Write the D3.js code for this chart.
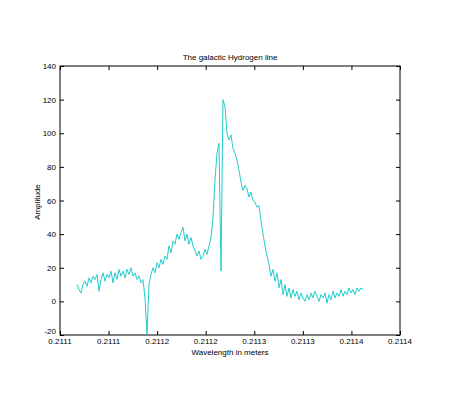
<!DOCTYPE html>
<html>
<head>
<meta charset="utf-8">
<script src="https://cdn.jsdelivr.net/npm/d3@7"></script>
<style>
  body { margin: 0; background: #fff; }
  text { font-family: "Liberation Sans", Arial, sans-serif; font-size: 8px; fill: #000; }
</style>
</head>
<body>
<div id="chart"></div>
<script>
// spectrum samples, uniform channel spacing
var waveStart = 0.2111175, waveStep = 2.0588e-6;
var amplitude = [
  10, 7, 5, 10, 12, 9, 14, 11, 15, 13, 16, 6, 13, 17, 12, 16, 14, 18, 11, 17,
  13, 19, 15, 18, 14, 19, 16, 20, 15, 17, 13, 15, 11, 13, 2, -19.5, 10, 16, 20, 17,
  23, 20, 25, 22, 27, 25, 33, 29, 36, 34, 40, 37, 41, 44, 36, 40, 34, 38, 33, 30,
  27, 30, 25, 27, 31, 28, 33, 38, 50, 72, 88, 94, 18, 120, 116, 100, 96, 99, 91, 88,
  84, 78, 71, 66, 69, 67, 62, 65, 60, 59, 56, 57, 48, 40, 33, 27, 22, 15, 19, 12,
  17, 8, 13, 4, 10, 3, 8, 2, 7, 3, 6, 1, 5, 2, 0, 4, 1, 5, 2, 6,
  3, 0, 4, 2, 5, -1, 4, 1, 6, 2, 5, 3, 7, 3, 6, 4, 8, 5, 7, 4,
  8, 6, 8, 7
];
var xTicks = [0.21110, 0.21115, 0.21120, 0.21125, 0.21130, 0.21135, 0.21140, 0.21145];
var xTickLabels = ["0.2111", "0.2111", "0.2112", "0.2112", "0.2113", "0.2113", "0.2114", "0.2114"];
var yTicks = [-20, 0, 20, 40, 60, 80, 100, 120, 140];

var data = amplitude.map(function (a, i) {
    return { w: waveStart + i * waveStep, a: a };
});

var svgWidth = 452, svgHeight = 393;
var pLeft = 60, pRight = 400, pTop = 66, pBottom = 335;

var svg = d3.select("#chart").append("svg").attr("width", svgWidth).attr("height", svgHeight);

var x = d3.scaleLinear().domain([0.21110, 0.21145]).range([pLeft, pRight]);
var y = d3.scaleLinear().domain([-20, 140]).range([pBottom, pTop]);

// box
svg.append("rect").attr("x", pLeft).attr("y", pTop)
    .attr("width", pRight - pLeft).attr("height", pBottom - pTop)
    .attr("fill", "none").attr("stroke", "#000").attr("stroke-width", 1);

// line
var line = d3.line().x(function (d) { return x(d.w); }).y(function (d) { return y(d.a); });
svg.append("path").datum(data).attr("d", line)
    .attr("fill", "none").attr("stroke", "#22cccc").attr("stroke-width", 1);

// axes (ticks point inward, mirrored on top/right)
svg.append("g").attr("transform", "translate(0," + pBottom + ")")
    .call(d3.axisTop(x).tickValues(xTicks).tickSize(4).tickFormat(""));
svg.append("g").attr("transform", "translate(0," + pTop + ")")
    .call(d3.axisBottom(x).tickValues(xTicks).tickSize(4).tickFormat(""));
svg.append("g").attr("transform", "translate(" + pLeft + ",0)")
    .call(d3.axisRight(y).tickValues(yTicks).tickSize(4).tickFormat(""));
svg.append("g").attr("transform", "translate(" + pRight + ",0)")
    .call(d3.axisLeft(y).tickValues(yTicks).tickSize(4).tickFormat(""));
svg.selectAll(".domain").remove();
svg.selectAll(".tick line").attr("stroke", "#000");

// tick labels
svg.selectAll(".xlab").data(xTicks).enter().append("text")
    .attr("class", "xlab")
    .attr("x", function (d) { return x(d); }).attr("y", 344)
    .attr("text-anchor", "middle")
    .text(function (d, i) { return xTickLabels[i]; });

svg.selectAll(".ylab").data(yTicks).enter().append("text")
    .attr("class", "ylab")
    .attr("x", 56)
    .attr("y", function (d) { return d === -20 ? y(d) - 1 : y(d) + 3; })
    .attr("text-anchor", "end")
    .text(function (d) { return d; });

svg.append("text").attr("x", 230).attr("y", 60).attr("text-anchor", "middle")
    .text("The galactic Hydrogen line");
svg.append("text").attr("x", 230).attr("y", 355).attr("text-anchor", "middle")
    .text("Wavelength in meters");
svg.append("text").attr("transform", "translate(40,202) rotate(-90)")
    .attr("text-anchor", "middle").text("Amplitude");
</script>
</body>
</html>
